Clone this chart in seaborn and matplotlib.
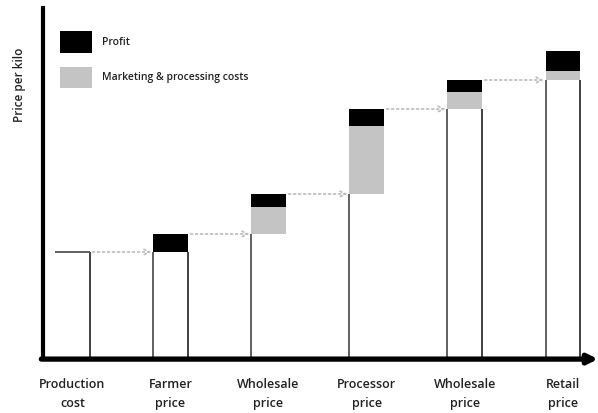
# value_chain.py
# Price build-up along the value chain (price per kilo)

import numpy as np
import pandas as pd
import matplotlib
matplotlib.use("Agg")
import matplotlib.pyplot as plt
from matplotlib.patches import Patch
import seaborn as sns

# data (arbitrary price units)
stages = ["Production\ncost", "Farmer\nprice", "Wholesale\nprice",
          "Processor\nprice", "Wholesale\nprice", "Retail\nprice"]
production_cost = 10.5
marketing_costs = [0.0, 0.0, 2.7, 6.8, 1.7, 0.9]
profit = [0.0, 1.8, 1.3, 1.7, 1.2, 2.0]

# cumulative levels
base = [production_cost]
for i in range(1, len(stages)):
    base.append(base[i - 1] + marketing_costs[i - 1] + profit[i - 1])
base = np.array(base)
with_costs = base + np.array(marketing_costs)
total = with_costs + np.array(profit)

df = pd.DataFrame({"stage": [f"s{i}" for i in range(len(stages))],
                   "base": base, "with_costs": with_costs, "total": total})

# which outline edges show on the white part of each bar
left_edge = [False, True, True, True, True, True]
right_edge = [True, True, False, False, True, True]

sns.set_style("white")
plt.rcParams["font.family"] = ["Open Sans", "DejaVu Sans"]

fig = plt.figure(figsize=(5.98, 4.13), dpi=100)
ax = fig.add_axes([43 / 598, 56 / 413, 555 / 598, 349 / 413])

bw = 0.35
# overlap trick: total (black), then costs (grey), then base (white) on top
sns.barplot(data=df, x="stage", y="total", color="black", saturation=1,
            width=bw, linewidth=0, ax=ax)
sns.barplot(data=df, x="stage", y="with_costs", color="#c4c4c4", saturation=1,
            width=bw, linewidth=0, ax=ax)
sns.barplot(data=df, x="stage", y="base", color="white", saturation=1,
            width=bw, linewidth=0, ax=ax)

# outlines of the white part
for i in range(len(stages)):
    if left_edge[i]:
        ax.vlines(i - bw / 2, 0, base[i], color="#555555", lw=1.3)
    if right_edge[i]:
        ax.vlines(i + bw / 2, 0, base[i], color="#333333", lw=1.3)
ax.hlines(base[0], -bw / 2, bw / 2, color="#555555", lw=1.3)

# dotted arrows carrying each price to the next stage
for i in range(len(stages) - 1):
    ax.annotate("", xy=(i + 1 - bw / 2 - 0.02, total[i]),
                xytext=(i + bw / 2 + 0.03, total[i]),
                arrowprops=dict(arrowstyle="->", color="#bbbbbb", lw=1.2,
                                linestyle=(0, (1.2, 1.8)), shrinkA=0, shrinkB=0))

ax.set_xlim(-0.3, 5.36)
ax.set_ylim(0, 34.9)

# axes: thick y line, x line with arrow head
sns.despine(ax=ax, top=True, right=True, bottom=True)
ax.spines["left"].set_linewidth(3)
ax.spines["left"].set_color("black")
ax.annotate("", xy=(1.0, -0.006), xytext=(-0.003, -0.006), xycoords="axes fraction",
            arrowprops=dict(arrowstyle="-|>", color="black", lw=3.8,
                            mutation_scale=14, shrinkA=0, shrinkB=0),
            annotation_clip=False)

ax.set_xticks(range(len(stages)))
ax.set_xticklabels(stages, fontsize=9, color="#222222", linespacing=1.6,
                   fontweight="semibold")
ax.tick_params(axis="x", length=0, pad=15)
ax.set_yticks([])
ax.set_xlabel("")
ax.set_ylabel("")

fig.text(20 / 598, 1 - 85 / 413, "Price per kilo", rotation=90, fontsize=8.5,
         ha="center", va="center", color="#222222", fontweight="semibold")

# legend
handles = [Patch(facecolor="black", edgecolor="none", label="Profit"),
           Patch(facecolor="#c4c4c4", edgecolor="none",
                 label="Marketing & processing costs")]
fig.legend(handles=handles, loc="upper left", bbox_to_anchor=(60 / 598, 1 - 31 / 413),
           frameon=False, handlelength=3.1, handleheight=2.8,
           labelspacing=1.35, handletextpad=0.9, borderpad=0, borderaxespad=0,
           labelcolor="#222222", prop={"size": 7.5, "weight": "semibold"})

fig.savefig("out.png", dpi=100)
